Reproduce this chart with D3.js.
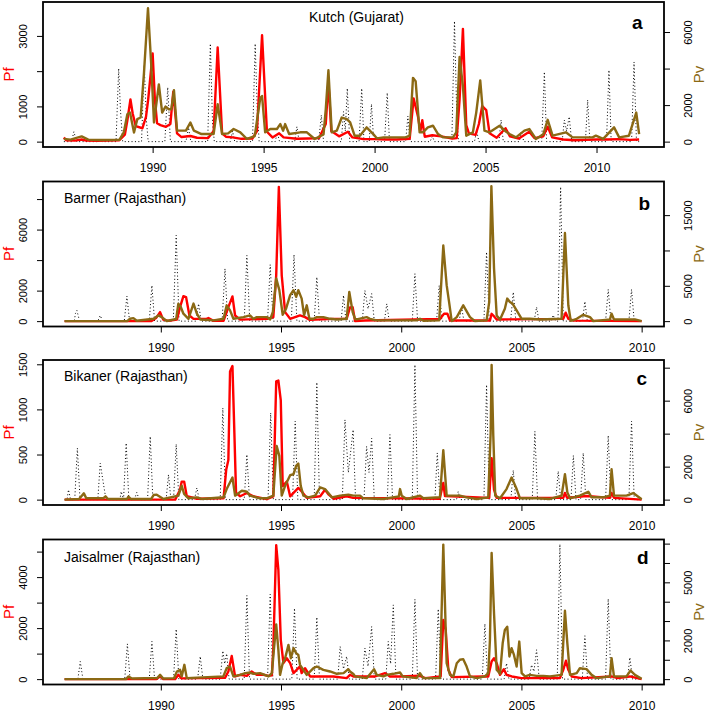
<!DOCTYPE html>
<html lang="en">
<head>
  <meta charset="UTF-8">
  <title>Pf, Pv and rainfall</title>
  <style>
    body { margin: 0; background: #fff; }
    svg { display: block; font-family: "Liberation Sans", Arial, Helvetica, sans-serif; }
    .tick line { stroke: #000; stroke-width: 1; }
    .tick text { fill: #000; }
  </style>
</head>
<body>
  <div id="chart"></div>
<script src="https://d3js.org/d3.v7.min.js"></script>
<script>
  // ---- data: [decimal year, value] ----
  // rainfall (dotted) has no axis of its own, it is read against the Pf axis

  // a - Kutch (Gujarat)
  const kutchPf = [[1986.0,120],[1986.1,40],[1986.5,30],[1986.8,60],[1987.0,30],[1987.5,20],[1988.0,30],[1988.5,40],[1988.75,200],[1988.86,600],[1989.0,1200],[1989.1,800],[1989.24,440],[1989.54,380],[1989.7,700],[1989.8,1200],[1990.0,2500],[1990.1,1200],[1990.2,520],[1990.35,470],[1990.6,420],[1990.8,500],[1990.93,1420],[1991.1,235],[1991.3,130],[1991.7,160],[1992.0,110],[1992.5,100],[1992.75,300],[1992.93,2670],[1993.13,235],[1993.3,140],[1993.6,120],[1994.0,80],[1994.5,90],[1994.7,300],[1994.93,3020],[1995.15,280],[1995.4,120],[1995.7,235],[1995.9,120],[1996.5,80],[1997.0,90],[1997.5,100],[1997.8,500],[1997.92,1700],[1998.05,300],[1998.4,150],[1998.8,280],[1999.0,120],[1999.5,70],[2000.0,70],[2000.5,60],[2001.0,60],[2001.58,80],[2001.76,1225],[2001.96,700],[2002.06,280],[2002.15,610],[2002.26,140],[2002.6,180],[2003.0,150],[2003.5,90],[2003.7,100],[2003.83,1200],[2003.98,3200],[2004.13,470],[2004.25,235],[2004.55,190],[2004.7,500],[2004.85,1010],[2005.03,895],[2005.18,235],[2005.5,110],[2005.9,380],[2006.1,150],[2006.5,90],[2006.97,280],[2007.2,100],[2007.6,150],[2007.8,420],[2008.0,120],[2008.5,60],[2009.0,40],[2009.5,50],[2010.0,60],[2010.5,60],[2011.0,70],[2011.5,50],[2011.92,60]]
  const kutchPv = [[1986.0,150],[1986.3,110],[1986.8,290],[1987.1,110],[1987.5,90],[1988.0,90],[1988.5,100],[1988.7,500],[1988.86,1500],[1988.98,1590],[1989.16,500],[1989.31,1230],[1989.46,1320],[1989.61,3760],[1989.79,7300],[1989.94,4130],[1990.06,1050],[1990.28,3130],[1990.43,1590],[1990.58,1920],[1990.73,1770],[1990.84,1770],[1990.96,2820],[1991.1,600],[1991.5,600],[1991.7,1050],[1991.86,600],[1992.2,415],[1992.75,420],[1992.93,2045],[1993.13,415],[1993.4,450],[1993.65,690],[1993.95,510],[1994.25,145],[1994.6,300],[1994.85,2400],[1994.93,2500],[1995.07,510],[1995.3,690],[1995.6,690],[1995.75,960],[1995.88,600],[1995.97,960],[1996.15,415],[1996.65,510],[1996.95,510],[1997.3,145],[1997.7,400],[1997.8,1770],[1997.92,3910],[1998.07,510],[1998.3,600],[1998.52,1320],[1998.75,1230],[1998.9,1050],[1999.1,325],[1999.34,325],[1999.64,780],[1999.94,415],[2000.1,180],[2000.4,235],[2001.4,235],[2001.58,325],[2001.73,3490],[2001.85,3310],[2002.03,510],[2002.18,510],[2002.4,780],[2002.63,870],[2002.86,415],[2003.08,235],[2003.53,235],[2003.68,510],[2003.83,4630],[2003.98,3040],[2004.13,325],[2004.43,510],[2004.58,1590],[2004.76,3350],[2004.95,600],[2005.18,510],[2005.63,870],[2005.93,540],[2006.08,415],[2006.37,235],[2006.75,600],[2006.97,690],[2007.27,145],[2007.6,400],[2007.8,1195],[2008.02,325],[2008.62,510],[2008.92,235],[2009.37,235],[2009.82,235],[2009.97,325],[2010.3,150],[2010.79,780],[2011.02,235],[2011.46,325],[2011.79,1590],[2011.92,415]]
  const kutchRain = [[1986.0,0],[1986.35,0],[1986.45,280],[1986.58,0],[1987.52,0],[1987.62,60],[1987.72,0],[1988.35,0],[1988.47,2075],[1988.55,900],[1988.65,0],[1989.5,0],[1989.62,2170],[1989.72,600],[1989.8,0],[1990.55,0],[1990.68,1540],[1990.8,0],[1991.5,0],[1991.62,400],[1991.72,0],[1992.48,0],[1992.6,2780],[1992.7,500],[1992.78,0],[1993.5,0],[1993.6,300],[1993.7,0],[1994.5,0],[1994.62,2780],[1994.72,800],[1994.8,0],[1995.52,0],[1995.62,250],[1995.72,0],[1996.4,0],[1996.5,425],[1996.6,0],[1997.48,0],[1997.6,750],[1997.7,0],[1998.5,0],[1998.6,850],[1998.68,300],[1998.77,1510],[1998.88,0],[1999.3,0],[1999.42,1510],[1999.52,0],[1999.76,0],[1999.86,1066],[1999.96,0],[2000.45,0],[2000.57,1386],[2000.67,0],[2001.4,0],[2001.5,726],[2001.6,0],[2002.5,0],[2002.6,150],[2002.7,0],[2003.48,0],[2003.6,3420],[2003.7,800],[2003.78,0],[2004.5,0],[2004.6,300],[2004.7,0],[2005.6,0],[2005.7,613],[2005.8,0],[2006.52,0],[2006.62,300],[2006.72,0],[2007.53,0],[2007.65,1980],[2007.75,0],[2008.45,0],[2008.55,613],[2008.65,300],[2008.77,707],[2008.88,0],[2009.5,0],[2009.6,1180],[2009.7,0],[2010.45,0],[2010.56,2030],[2010.66,0],[2011.58,0],[2011.69,2260],[2011.8,0],[2011.92,0]]

  // b - Barmer (Rajasthan)
  const barmerPf = [[1986.0,0],[1989.6,0],[1989.8,200],[1989.97,590],[1990.1,100],[1990.32,20],[1990.67,100],[1990.8,920],[1990.94,1640],[1991.05,1580],[1991.19,370],[1991.36,150],[1991.9,150],[1991.98,200],[1992.19,20],[1992.61,20],[1992.81,920],[1992.98,1620],[1993.09,370],[1993.3,100],[1994.41,150],[1994.68,260],[1994.8,3000],[1994.91,8800],[1995.03,3000],[1995.17,590],[1995.38,150],[1995.79,370],[1996.0,260],[1996.2,80],[1997.18,150],[1997.73,150],[1997.87,900],[1997.98,920],[1998.08,0],[1998.5,40],[2001.61,140],[2001.78,480],[2001.92,480],[2002.03,40],[2003.69,40],[2003.76,480],[2003.83,370],[2003.97,110],[2006.74,150],[2006.84,550],[2006.95,150],[2007.2,30],[2010.0,0]]
  const barmerPv = [[1986.0,0],[1988.6,0],[1988.72,330],[1988.86,430],[1989.0,50],[1989.7,330],[1989.9,810],[1990.04,570],[1990.25,20],[1990.64,330],[1990.73,2480],[1990.83,2000],[1990.94,1050],[1991.15,330],[1991.36,2480],[1991.5,1050],[1991.64,240],[1992.2,100],[1992.61,330],[1992.74,2240],[1992.88,1520],[1993.02,330],[1993.44,570],[1993.71,810],[1993.85,330],[1993.99,570],[1994.41,570],[1994.55,240],[1994.66,1290],[1994.8,6050],[1994.93,4380],[1995.07,900],[1995.21,1760],[1995.38,3670],[1995.52,4380],[1995.63,3430],[1995.72,4380],[1995.86,3190],[1995.96,810],[1996.07,2240],[1996.18,330],[1996.35,330],[1996.49,570],[1996.76,570],[1997.04,330],[1997.32,240],[1997.73,330],[1997.84,4140],[1997.98,1290],[1998.08,330],[1998.15,240],[1998.56,570],[1998.7,330],[1998.98,100],[2000.64,100],[2000.78,330],[2000.92,50],[2001.58,100],[2001.75,10700],[2001.89,5090],[2002.0,2480],[2002.1,0],[2002.31,570],[2002.58,2240],[2002.86,570],[2003.07,0],[2003.55,100],[2003.66,2710],[2003.75,19100],[2003.86,7470],[2003.97,810],[2004.11,240],[2004.31,1760],[2004.41,3190],[2004.52,2710],[2004.63,2480],[2004.8,1520],[2005.01,330],[2005.35,330],[2005.77,240],[2006.67,330],[2006.81,12470],[2006.95,2240],[2007.05,50],[2007.3,330],[2007.57,900],[2007.85,570],[2007.99,0],[2008.68,240],[2008.75,1050],[2008.85,240],[2009.51,240],[2009.72,240],[2010.0,0]]
  const barmerRain = [[1986.0,0],[1986.4,0],[1986.45,500],[1986.51,700],[1986.62,0],[1987.38,0],[1987.48,370],[1987.58,0],[1988.48,0],[1988.59,1640],[1988.7,0],[1989.52,0],[1989.63,2340],[1989.74,0],[1990.52,0],[1990.64,5630],[1990.76,0],[1991.47,0],[1991.57,1140],[1991.68,0],[1992.55,0],[1992.67,3440],[1992.78,0],[1993.47,0],[1993.58,4310],[1993.7,0],[1994.44,0],[1994.55,3700],[1994.67,0],[1995.43,0],[1995.54,4360],[1995.66,0],[1996.38,0],[1996.49,2890],[1996.6,0],[1997.5,0],[1997.6,1690],[1997.7,0],[1998.38,0],[1998.49,2010],[1998.62,800],[1998.77,1800],[1998.88,0],[1999.3,0],[1999.4,1140],[1999.5,0],[2000.46,0],[2000.57,3110],[2000.68,0],[2001.47,0],[2001.58,2340],[2001.69,0],[2002.41,0],[2002.51,920],[2002.61,0],[2003.44,0],[2003.55,4530],[2003.66,0],[2004.55,0],[2004.66,1900],[2004.77,0],[2005.53,0],[2005.63,920],[2005.73,0],[2006.25,0],[2006.32,400],[2006.42,0],[2006.52,0],[2006.63,8800],[2006.74,0],[2007.54,0],[2007.64,1290],[2007.74,0],[2008.5,0],[2008.61,2080],[2008.72,0],[2009.47,0],[2009.58,2080],[2009.69,0],[2010.0,0]]

  // c - Bikaner (Rajasthan)
  const bikanerPf = [[1986.0,0],[1990.6,0],[1990.8,110],[1990.87,200],[1990.97,200],[1991.08,37],[1991.5,10],[1992.61,15],[1992.72,330],[1992.81,440],[1992.88,1420],[1992.98,1480],[1993.06,740],[1993.13,75],[1993.3,37],[1993.58,74],[1993.85,37],[1994.41,5],[1994.68,37],[1994.8,1310],[1994.89,1320],[1994.99,1100],[1995.07,150],[1995.24,200],[1995.38,37],[1995.72,130],[1995.86,90],[1996.07,20],[1996.63,37],[1996.83,110],[1996.97,60],[1997.2,10],[1997.73,37],[1998.0,20],[2001.6,10],[2001.75,185],[2001.82,40],[2003.66,20],[2003.76,460],[2003.86,110],[2003.97,20],[2006.74,20],[2006.81,74],[2006.9,20],[2007.71,40],[2008.68,20],[2008.75,74],[2008.85,20],[2010.0,0]]
  const bikanerPv = [[1986.0,0],[1986.6,40],[1986.8,380],[1986.9,80],[1987.6,80],[1987.7,200],[1987.8,40],[1988.6,40],[1988.65,180],[1988.75,40],[1989.6,40],[1989.7,280],[1989.83,300],[1990.11,40],[1990.73,240],[1990.87,840],[1990.97,340],[1991.15,80],[1991.5,140],[1991.7,40],[1992.61,140],[1992.74,640],[1992.98,1340],[1993.09,240],[1993.37,540],[1993.58,480],[1993.71,240],[1994.13,80],[1994.41,80],[1994.68,240],[1994.82,3250],[1994.93,2650],[1995.03,240],[1995.17,840],[1995.38,1480],[1995.52,1540],[1995.63,2050],[1995.72,2190],[1995.82,840],[1995.93,240],[1996.14,140],[1996.42,240],[1996.63,740],[1996.83,640],[1996.97,400],[1997.11,140],[1997.46,240],[1997.8,300],[1998.01,240],[1998.29,240],[1998.42,80],[1999.26,40],[1999.9,200],[1999.95,640],[2000.02,240],[2000.23,40],[2000.78,240],[2000.92,80],[2001.61,140],[2001.75,3000],[2001.89,240],[2002.44,240],[2002.72,140],[2003.14,40],[2003.62,140],[2003.72,4050],[2003.76,8160],[2003.83,3850],[2003.91,240],[2004.11,80],[2004.38,640],[2004.59,1340],[2004.8,640],[2004.94,80],[2005.63,80],[2006.19,40],[2006.67,240],[2006.81,1540],[2006.91,440],[2007.02,80],[2007.43,240],[2007.78,480],[2007.92,140],[2008.4,140],[2008.68,240],[2008.75,1840],[2008.85,240],[2009.37,240],[2009.65,400],[2010.0,20]]
  const bikanerRain = [[1986.0,0],[1986.1,0],[1986.16,110],[1986.25,0],[1986.42,0],[1986.53,570],[1986.64,0],[1987.38,0],[1987.48,405],[1987.62,165],[1987.72,0],[1988.3,0],[1988.35,90],[1988.45,0],[1988.56,627],[1988.67,0],[1988.9,0],[1989.0,80],[1989.1,0],[1989.45,0],[1989.56,700],[1989.67,0],[1990.22,0],[1990.32,277],[1990.42,0],[1990.53,0],[1990.64,615],[1990.75,0],[1991.4,0],[1991.5,130],[1991.6,0],[1992.47,0],[1992.58,1015],[1992.69,0],[1993.47,0],[1993.58,500],[1993.69,0],[1994.46,0],[1994.57,960],[1994.68,0],[1995.48,0],[1995.59,870],[1995.7,0],[1996.38,0],[1996.49,1300],[1996.6,0],[1997.55,0],[1997.66,885],[1997.8,300],[1998.0,775],[1998.1,0],[1998.45,0],[1998.56,590],[1998.66,300],[1998.77,680],[1998.88,0],[1999.42,0],[1999.53,720],[1999.64,0],[2000.46,0],[2000.57,1495],[2000.68,0],[2001.4,0],[2001.5,517],[2001.61,0],[2002.3,0],[2002.37,90],[2002.45,0],[2003.44,0],[2003.55,1273],[2003.66,0],[2004.56,0],[2004.66,325],[2004.76,0],[2005.45,0],[2005.56,757],[2005.67,0],[2006.43,0],[2006.53,315],[2006.63,0],[2007.06,0],[2007.16,490],[2007.27,0],[2007.46,0],[2007.57,517],[2007.68,0],[2008.5,0],[2008.61,710],[2008.72,0],[2009.47,0],[2009.58,870],[2009.69,0],[2010.0,0]]

  // d - Jaisalmer (Rajasthan)
  const jaisalmerPf = [[1986.0,0],[1989.8,0],[1989.97,105],[1990.1,0],[1990.6,0],[1990.73,170],[1990.85,30],[1992.67,50],[1992.81,300],[1992.95,910],[1993.09,105],[1993.3,170],[1993.58,130],[1993.78,300],[1993.99,170],[1994.27,170],[1994.48,130],[1994.62,150],[1994.68,1210],[1994.8,5250],[1994.89,4280],[1994.99,1540],[1995.1,625],[1995.24,820],[1995.38,625],[1995.52,235],[1995.65,365],[1995.79,500],[1995.86,235],[1996.0,430],[1996.21,105],[1996.63,105],[1997.18,105],[1997.73,40],[1997.87,170],[1998.01,105],[1998.91,105],[1999.33,235],[1999.53,105],[1999.95,105],[2000.78,130],[2001.0,40],[2001.64,105],[2001.75,2320],[2001.85,1930],[2001.96,365],[2002.1,80],[2003.4,105],[2003.62,105],[2003.76,690],[2003.86,820],[2003.97,625],[2004.11,170],[2004.27,390],[2004.38,170],[2004.6,105],[2005.0,40],[2006.6,40],[2006.74,365],[2006.85,720],[2006.95,365],[2007.09,105],[2007.5,40],[2008.75,105],[2009.0,40],[2009.51,105],[2010.0,0]]
  const jaisalmerPv = [[1986.0,0],[1988.55,0],[1988.66,140],[1988.8,30],[1989.85,60],[1989.97,220],[1990.1,30],[1990.55,50],[1990.67,395],[1990.8,480],[1990.87,140],[1990.98,740],[1991.08,50],[1992.6,140],[1992.74,565],[1992.88,650],[1993.02,140],[1993.3,220],[1993.51,310],[1993.71,340],[1993.85,270],[1994.13,310],[1994.48,140],[1994.62,310],[1994.71,1600],[1994.8,2830],[1994.89,1510],[1994.96,220],[1995.07,820],[1995.17,1080],[1995.31,1770],[1995.41,1080],[1995.52,1600],[1995.63,1340],[1995.72,1250],[1995.79,740],[1995.93,480],[1996.07,220],[1996.35,565],[1996.49,650],[1996.76,480],[1997.04,395],[1997.32,275],[1997.6,310],[1997.8,515],[1997.87,395],[1998.01,270],[1998.08,140],[1998.56,50],[1998.87,515],[1998.98,220],[1999.26,140],[1999.4,220],[1999.67,275],[1999.95,340],[2000.06,140],[2000.64,50],[2000.78,310],[2000.92,50],[2001.61,50],[2001.75,6950],[2001.89,820],[2002.03,220],[2002.17,140],[2002.31,820],[2002.44,1000],[2002.58,1030],[2002.72,650],[2002.86,140],[2003.14,50],[2003.48,140],[2003.62,310],[2003.69,2020],[2003.76,6520],[2003.86,3400],[2003.97,480],[2004.11,275],[2004.22,1850],[2004.31,2540],[2004.41,2710],[2004.5,1170],[2004.59,1600],[2004.69,1250],[2004.8,650],[2004.91,1940],[2005.01,310],[2005.15,140],[2005.35,220],[2005.63,170],[2005.91,170],[2006.19,140],[2006.67,220],[2006.81,3530],[2006.91,1850],[2007.02,220],[2007.3,310],[2007.43,565],[2007.71,515],[2007.92,220],[2008.13,50],[2008.68,140],[2008.75,1080],[2008.85,140],[2009.37,140],[2009.54,445],[2009.72,220],[2010.0,20]]
  const jaisalmerRain = [[1986.0,0],[1986.55,0],[1986.65,690],[1986.76,0],[1988.5,0],[1988.61,1380],[1988.72,0],[1989.52,0],[1989.63,1475],[1989.74,0],[1990.53,0],[1990.64,1960],[1990.75,0],[1991.53,0],[1991.64,890],[1991.75,0],[1992.47,0],[1992.58,1110],[1992.66,600],[1992.74,1000],[1992.84,0],[1993.47,0],[1993.58,3280],[1993.69,0],[1994.44,0],[1994.55,3330],[1994.66,0],[1995.45,0],[1995.56,2780],[1995.67,0],[1996.38,0],[1996.49,2430],[1996.6,0],[1997.36,0],[1997.46,1280],[1997.6,400],[1997.73,890],[1997.84,0],[1998.38,0],[1998.49,1210],[1998.62,500],[1998.77,2060],[1998.88,0],[1999.36,0],[1999.46,1475],[1999.56,600],[1999.67,2910],[1999.78,0],[2000.46,0],[2000.57,3130],[2000.68,0],[2001.43,0],[2001.54,2750],[2001.65,0],[2003.37,0],[2003.48,2170],[2003.59,0],[2004.28,0],[2004.38,625],[2004.48,0],[2005.32,0],[2005.42,560],[2005.52,300],[2005.63,1150],[2005.74,0],[2006.49,0],[2006.6,5290],[2006.71,0],[2007.53,0],[2007.64,1700],[2007.75,0],[2008.5,0],[2008.61,3150],[2008.72,0],[2009.41,0],[2009.51,850],[2009.62,0],[2010.0,0]]

  // ---- tick values and labels (R drops overlapping labels, kept as "") ----
  const yearTicks = [1990, 1995, 2000, 2005, 2010]
  const kutchPfTicks = [0, 1000, 2000, 3000], kutchPfLabels = ['0', '1000', '', '3000']
  const kutchPvTicks = [0, 2000, 4000, 6000], kutchPvLabels = ['0', '2000', '', '6000']
  const barmerPfTicks = [0, 2000, 4000, 6000, 8000], barmerPfLabels = ['0', '2000', '', '6000', '']
  const barmerPvTicks = [0, 5000, 10000, 15000], barmerPvLabels = ['0', '5000', '', '15000']
  const bikanerPfTicks = [0, 500, 1000, 1500], bikanerPfLabels = ['0', '500', '1000', '1500']
  const bikanerPvTicks = [0, 2000, 4000, 6000, 8000], bikanerPvLabels = ['0', '2000', '', '6000', '']
  const jaisalmerPfTicks = [0, 1000, 2000, 3000, 4000, 5000], jaisalmerPfLabels = ['0', '', '2000', '', '4000', '']
  const jaisalmerPvTicks = [0, 1000, 2000, 3000, 4000, 5000, 6000, 7000], jaisalmerPvLabels = ['0', '', '2000', '', '', '5000', '', '']

  const titles = ['Kutch (Gujarat)', 'Barmer (Rajasthan)', 'Bikaner (Rajasthan)', 'Jaisalmer (Rajasthan)']
  const letters = ['a', 'b', 'c', 'd']

  // ---- layout ----
  const W = 710, H = 712
  const left = 43, right = 664, boxH = 145
  const red = '#ff0000', brown = '#8b6914'

  const panels = [
    { top: 2, xDomain: [1985.06, 2013.04], pfMax: 3810, pvMax: 7350,
      pf: kutchPf, pv: kutchPv, rain: kutchRain,
      pfTicks: kutchPfTicks, pfLabels: kutchPfLabels, pvTicks: kutchPvTicks, pvLabels: kutchPvLabels,
      titleX: 309, titleY: 22, letterX: 642.5, letterY: 28.5 },
    { top: 181.5, xDomain: [1985.1, 2010.93], pfMax: 8800, pvMax: 19000,
      pf: barmerPf, pv: barmerPv, rain: barmerRain,
      pfTicks: barmerPfTicks, pfLabels: barmerPfLabels, pvTicks: barmerPvTicks, pvLabels: barmerPvLabels,
      titleX: 64, titleY: 202.5, letterX: 650, letterY: 210 },
    { top: 360, xDomain: [1985.1, 2010.93], pfMax: 1488, pvMax: 8140,
      pf: bikanerPf, pv: bikanerPv, rain: bikanerRain,
      pfTicks: bikanerPfTicks, pfLabels: bikanerPfLabels, pvTicks: bikanerPvTicks, pvLabels: bikanerPvLabels,
      titleX: 64, titleY: 380.5, letterX: 647, letterY: 384.5 },
    { top: 539.5, xDomain: [1985.1, 2010.93], pfMax: 5264, pvMax: 6935,
      pf: jaisalmerPf, pv: jaisalmerPv, rain: jaisalmerRain,
      pfTicks: jaisalmerPfTicks, pfLabels: jaisalmerPfLabels, pvTicks: jaisalmerPvTicks, pvLabels: jaisalmerPvLabels,
      titleX: 64, titleY: 561.5, letterX: 648.5, letterY: 563.5 }
  ]

  const svg = d3.select('#chart').append('svg')
    .attr('width', W)
    .attr('height', H)

  // R style ylim: 4% padding on each side of [0, max]
  const padded = m => [-0.04 * m, 1.04 * m]

  panels.forEach((p, i) => {
    const top = p.top, bottom = top + boxH
    const x = d3.scaleLinear().domain(p.xDomain).range([left, right])
    const yPf = d3.scaleLinear().domain(padded(p.pfMax)).range([bottom, top])
    const yPv = d3.scaleLinear().domain(padded(p.pvMax)).range([bottom, top])

    const g = svg.append('g')
    g.append('clipPath').attr('id', 'clip' + i)
      .append('rect')
      .attr('x', left).attr('y', top)
      .attr('width', right - left).attr('height', boxH)

    const plot = g.append('g').attr('clip-path', `url(#clip${i})`)
    const line = y => d3.line().x(d => x(d[0])).y(d => y(d[1]))

    // rainfall, dotted
    plot.append('path').datum(p.rain)
      .attr('d', line(yPf))
      .attr('fill', 'none')
      .attr('stroke', '#000')
      .attr('stroke-width', 1)
      .attr('stroke-dasharray', '1,2.4')

    plot.append('path').datum(p.pf)
      .attr('d', line(yPf))
      .attr('fill', 'none')
      .attr('stroke', red)
      .attr('stroke-width', 2.4)
      .attr('stroke-linejoin', 'round')

    plot.append('path').datum(p.pv)
      .attr('d', line(yPv))
      .attr('fill', 'none')
      .attr('stroke', brown)
      .attr('stroke-width', 2.4)
      .attr('stroke-linejoin', 'round')

    // box
    g.append('rect')
      .attr('x', left).attr('y', top)
      .attr('width', right - left).attr('height', boxH)
      .attr('fill', 'none')
      .attr('stroke', '#000')
      .attr('stroke-width', 1.8)

    // x axis
    const xAxis = g.append('g')
      .attr('transform', `translate(0, ${bottom})`)
      .call(d3.axisBottom(x).tickValues(yearTicks).tickFormat(d3.format('d')).tickSize(6).tickSizeOuter(0))
    xAxis.select('.domain').remove()
    xAxis.selectAll('text')
      .attr('y', 25).attr('dy', 0)
      .style('font-size', '12px')

    // left axis (Pf)
    const yl = g.append('g')
      .attr('transform', `translate(${left}, 0)`)
      .call(d3.axisLeft(yPf).tickValues(p.pfTicks).tickFormat((d, k) => p.pfLabels[k]).tickSize(6).tickSizeOuter(0))
    yl.select('.domain').remove()
    yl.selectAll('text')
      .attr('transform', 'rotate(-90)')
      .attr('x', 0).attr('y', -16.5).attr('dy', 0)
      .attr('text-anchor', 'middle')
      .style('font-size', '11px')

    // right axis (Pv)
    const yr = g.append('g')
      .attr('transform', `translate(${right}, 0)`)
      .call(d3.axisRight(yPv).tickValues(p.pvTicks).tickFormat((d, k) => p.pvLabels[k]).tickSize(6).tickSizeOuter(0))
    yr.select('.domain').remove()
    yr.selectAll('text')
      .attr('transform', 'rotate(-90)')
      .attr('x', 0).attr('y', 27.5).attr('dy', 0)
      .attr('text-anchor', 'middle')
      .style('font-size', '11px')

    const mid = (top + bottom) / 2
    g.append('text')
      .attr('transform', `translate(13.5, ${mid}) rotate(-90)`)
      .attr('text-anchor', 'middle')
      .attr('fill', red)
      .style('font-size', '15px')
      .text('Pf')
    g.append('text')
      .attr('transform', `translate(703.5, ${mid}) rotate(-90)`)
      .attr('text-anchor', 'middle')
      .attr('fill', brown)
      .style('font-size', '15px')
      .text('Pv')

    g.append('text')
      .attr('x', p.titleX).attr('y', p.titleY)
      .style('font-size', '14px')
      .text(titles[i])

    g.append('text')
      .attr('x', p.letterX).attr('y', p.letterY)
      .attr('text-anchor', 'end')
      .style('font-size', '19px')
      .style('font-weight', 'bold')
      .text(letters[i])
  })
</script>
</body>
</html>
